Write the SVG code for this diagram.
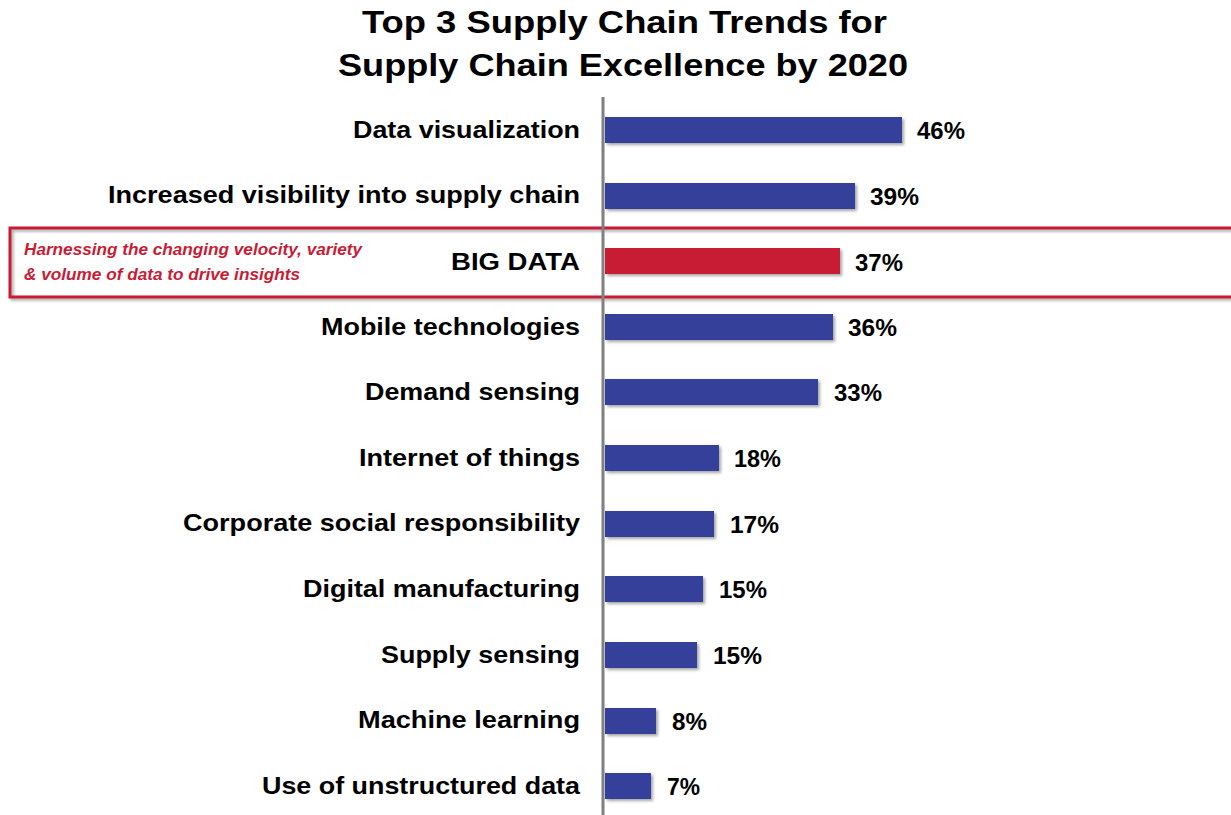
<svg xmlns="http://www.w3.org/2000/svg" width="1231" height="815" viewBox="0 0 1231 815">
<style>
.title{font-family:"Liberation Sans",Arial,sans-serif;font-weight:bold;font-size:32px;fill:#000}
.lbl{font-family:"Liberation Sans",Arial,sans-serif;font-weight:bold;font-size:24px;fill:#000}
.val{font-family:"Liberation Sans",Arial,sans-serif;font-weight:bold;font-size:23px;fill:#000}
.bar{fill:#343f9b;filter:url(#sh)}
.hbar{fill:#c81c35;filter:url(#sh)}
.note{font-family:"Liberation Sans",Arial,sans-serif;font-style:italic;font-weight:bold;font-size:17px;fill:#c81c35}
</style>
<defs>
<filter id="sh" x="-10%" y="-30%" width="130%" height="180%">
<feDropShadow dx="2" dy="2" stdDeviation="1.5" flood-color="#000" flood-opacity="0.35"/>
</filter>
</defs>
<rect width="1231" height="815" fill="#fff"/>
<g id="title">
<text class="title" x="362" y="33" textLength="525" lengthAdjust="spacingAndGlyphs">Top 3 Supply Chain Trends for</text>
<text class="title" x="338" y="76" textLength="570" lengthAdjust="spacingAndGlyphs">Supply Chain Excellence by 2020</text>
</g>
<g id="highlight">
<rect x="10" y="228" width="1230" height="69" fill="none" stroke="#c81c35" stroke-width="3" filter="url(#sh)"/>
<text class="note" x="24" y="255" textLength="338" lengthAdjust="spacingAndGlyphs">Harnessing the changing velocity, variety</text>
<text class="note" x="24" y="280" textLength="276" lengthAdjust="spacingAndGlyphs">&amp; volume of data to drive insights</text>
</g>
<g id="axis">
<line x1="603" y1="97" x2="603" y2="815" stroke="#808080" stroke-width="3"/>
</g>
<g id="r1"><text class="lbl" x="353" y="138" textLength="227" lengthAdjust="spacingAndGlyphs">Data visualization</text><rect class="bar" x="605" y="117" width="297" height="26"/><text class="val" x="917" y="139" textLength="48" lengthAdjust="spacingAndGlyphs">46%</text></g>
<g id="r2"><text class="lbl" x="108" y="203" textLength="472" lengthAdjust="spacingAndGlyphs">Increased visibility into supply chain</text><rect class="bar" x="605" y="183" width="250" height="26"/><text class="val" x="870" y="205" textLength="49" lengthAdjust="spacingAndGlyphs">39%</text></g>
<g id="r3"><text class="lbl" x="451" y="270" textLength="129" lengthAdjust="spacingAndGlyphs">BIG DATA</text><rect class="hbar" x="605" y="248" width="235" height="26"/><text class="val" x="855" y="271" textLength="48" lengthAdjust="spacingAndGlyphs">37%</text></g>
<g id="r4"><text class="lbl" x="321" y="335" textLength="259" lengthAdjust="spacingAndGlyphs">Mobile technologies</text><rect class="bar" x="605" y="314" width="228" height="26"/><text class="val" x="848" y="336" textLength="49" lengthAdjust="spacingAndGlyphs">36%</text></g>
<g id="r5"><text class="lbl" x="365" y="400" textLength="215" lengthAdjust="spacingAndGlyphs">Demand sensing</text><rect class="bar" x="605" y="379" width="213" height="26"/><text class="val" x="834" y="401" textLength="48" lengthAdjust="spacingAndGlyphs">33%</text></g>
<g id="r6"><text class="lbl" x="359" y="466" textLength="221" lengthAdjust="spacingAndGlyphs">Internet of things</text><rect class="bar" x="605" y="445" width="114" height="26"/><text class="val" x="734" y="467" textLength="47" lengthAdjust="spacingAndGlyphs">18%</text></g>
<g id="r7"><text class="lbl" x="183" y="531" textLength="397" lengthAdjust="spacingAndGlyphs">Corporate social responsibility</text><rect class="bar" x="605" y="511" width="109" height="26"/><text class="val" x="730" y="533" textLength="49" lengthAdjust="spacingAndGlyphs">17%</text></g>
<g id="r8"><text class="lbl" x="303" y="597" textLength="277" lengthAdjust="spacingAndGlyphs">Digital manufacturing</text><rect class="bar" x="605" y="576" width="98" height="26"/><text class="val" x="719" y="598" textLength="48" lengthAdjust="spacingAndGlyphs">15%</text></g>
<g id="r9"><text class="lbl" x="381" y="663" textLength="199" lengthAdjust="spacingAndGlyphs">Supply sensing</text><rect class="bar" x="605" y="642" width="92" height="26"/><text class="val" x="713" y="664" textLength="49" lengthAdjust="spacingAndGlyphs">15%</text></g>
<g id="r10"><text class="lbl" x="358" y="728" textLength="222" lengthAdjust="spacingAndGlyphs">Machine learning</text><rect class="bar" x="605" y="708" width="51" height="26"/><text class="val" x="672" y="730" textLength="35" lengthAdjust="spacingAndGlyphs">8%</text></g>
<g id="r11"><text class="lbl" x="262" y="794" textLength="318" lengthAdjust="spacingAndGlyphs">Use of unstructured data</text><rect class="bar" x="605" y="773" width="46" height="26"/><text class="val" x="667" y="795" textLength="33" lengthAdjust="spacingAndGlyphs">7%</text></g>
</svg>
